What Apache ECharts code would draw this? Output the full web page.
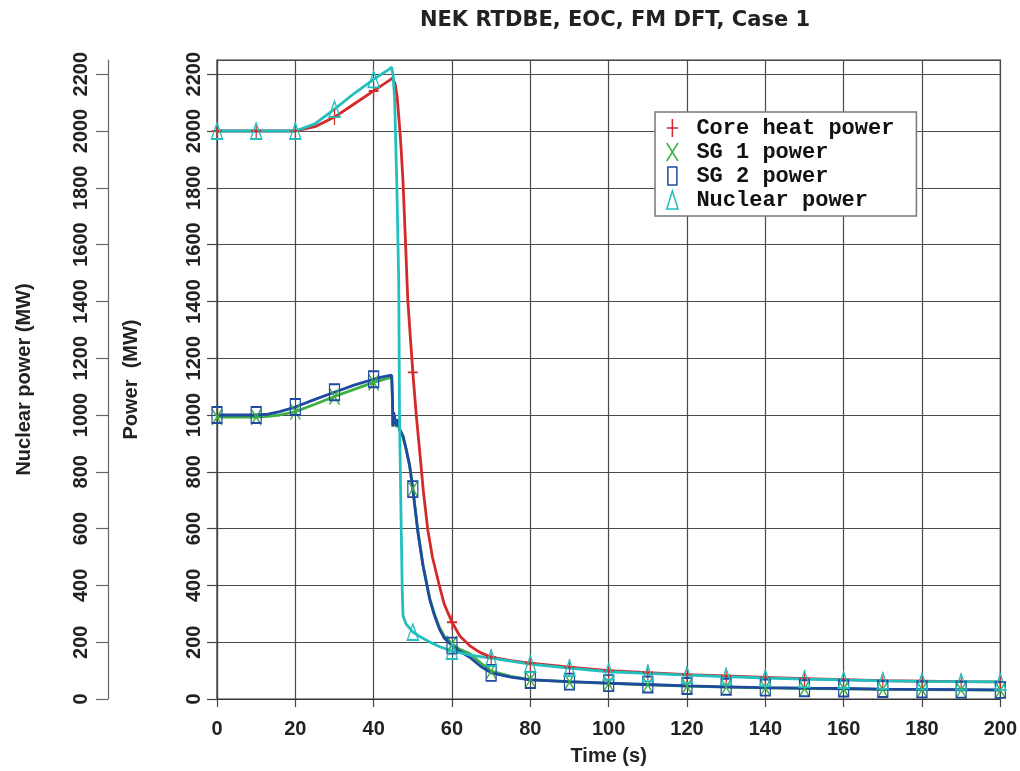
<!DOCTYPE html>
<html><head><meta charset="utf-8">
<script src="https://cdn.jsdelivr.net/npm/echarts@6/dist/echarts.min.js"></script>
<style>html,body{margin:0;padding:0;background:#fff}#c{width:1020px;height:771px}</style>
</head><body><div id="c"></div>
<script>
const chartTitle = 'NEK RTDBE, EOC, FM DFT, Case 1';
const xName = 'Time (s)';
const yName = 'Power  (MW)';
const y2Name = 'Nuclear power (MW)';
const seriesNames = ['Core heat power', 'SG 1 power', 'SG 2 power', 'Nuclear power'];

// Core heat power
const tCore = [0,10,20,25,30,35,40,42,44,44.8,45.5,46,46.6,47,47.5,48.2,48.7,49.4,50,50.9,51.7,52.7,53.8,55,56.8,58,60,62,64.5,67,70,75,80,90,100,110,120,130,140,150,160,170,180,190,200];
const pCore = [2000,2000,2000,2015,2049,2095,2141,2160,2178,2186,2165,2120,2018,1940,1820,1584,1408,1267,1150,996,880,730,598,500,398,335,270,222,188,165,147,135,126,112,100,93,86,81,76,72,68,65,63,61,60];

// SG 1 / SG 2 power
const tSG = [0,10,13,16,20,25,30,35,40,42,44.6,44.8,44.9,45.1,45.35,45.6,45.8,46.2,46.6,47,47.5,48.3,49.2,50,51.3,52.6,54.3,55.5,56.8,58,60,62,64.5,67.5,70,75,80,90,100,110,120,130,140,150,160,170,180,190,200];
const pSG1 = [993,993,995,1000,1012,1038,1065,1090,1115,1123,1133,1055,958,1005,998,970,958,980,948,938,922,878,820,740,590,472,355,300,252,222,194,175,160,125,98,80,68,60,55,50,45,42,39,37,36,34,33,32,31];
const pSG2 = [1000,1000,1003,1012,1028,1055,1080,1105,1126,1133,1140,1060,961,1010,1003,975,961,985,950,940,926,880,821,739,587,469,352,295,246,215,188,168,147,113,92,77,67,61,56,51,46,43,40,38,37,35,34,33,32];

// Nuclear power
const tNuc = [0,10,20,25,30,35,40,42,44,44.6,45,45.35,45.9,46.4,46.6,47.05,47.3,47.5,48.3,50,52,54.3,57,60,65,70,80,90,100,110,120,130,140,150,160,170,180,190,200];
const pNuc = [2000,2000,2000,2025,2077,2132,2182,2200,2218,2225,2190,2112,1820,1468,996,587,380,292,264,236,218,201,183,169,154,144,123,109,96,90,84,79,74,70,67,64,62,61,60];

const colors = ['#d42a2a', '#3cb043', '#1f4aa0', '#22bfbf'];
const icons = [
  'path://M5,0L5,16M0,8L10,8',
  'path://M0,0L10,16M10,0L0,16',
  'path://M0,0L8,0L8,16L0,16Z',
  'path://M5,0L10,16L0,16Z'
];

const zip = (t, v) => t.map((x, i) => [x, v[i]]);
const marks = (t, v) => zip(t, v).filter(p => p[0] % 10 === 0);
const curves = [zip(tCore, pCore), zip(tSG, pSG1), zip(tSG, pSG2), zip(tNuc, pNuc)];
const markPts = [marks(tCore, pCore), marks(tSG, pSG1), marks(tSG, pSG2), marks(tNuc, pNuc)];

const lab = {fontFamily: 'Liberation Sans', fontWeight: 'bold', fontSize: 20, color: '#222'};

const series = [];
seriesNames.forEach((n, i) => {
  series.push({
    name: n, type: 'line', data: curves[i], yAxisIndex: i === 3 ? 1 : 0,
    symbol: 'none', smooth: false, z: 2 + i,
    lineStyle: {color: colors[i], width: 2.8}, itemStyle: {color: colors[i]}
  });
});
seriesNames.forEach((n, i) => {
  series.push({
    name: n, type: 'scatter', data: markPts[i], yAxisIndex: i === 3 ? 1 : 0,
    symbol: icons[i], symbolSize: i === 3 ? [11, 16] : [10, 16], z: 10 + i,
    itemStyle: {color: 'rgba(0,0,0,0)', borderColor: colors[i], borderWidth: 1.5, opacity: 1}
  });
});

const yBase = {
  type: 'value', min: 0, max: 2250, interval: 200, position: 'left',
  nameLocation: 'middle', nameRotate: 90,
  nameTextStyle: Object.assign({}, lab),
  axisLine: {show: true, lineStyle: {color: '#444', width: 1.2}},
  axisTick: {show: true, length: 10, lineStyle: {color: '#444', width: 1.2}},
  axisLabel: Object.assign({rotate: 90, margin: 13, showMaxLabel: false,
    formatter: v => (v % 200 === 0 ? String(v) : '')}, lab)
};

const chart = echarts.init(document.getElementById('c'), null, {renderer: 'canvas'});
chart.setOption({
  animation: false,
  backgroundColor: '#fff',
  title: {
    text: chartTitle, left: 610, top: 5, textAlign: 'center',
    textStyle: {fontFamily: 'DejaVu Sans', fontWeight: 'bold', fontSize: 21, color: '#222'}
  },
  grid: {left: 217, right: 18, top: 60, bottom: 71, show: true, borderColor: '#333', borderWidth: 1.2, backgroundColor: 'transparent'},
  legend: {
    orient: 'vertical', left: 655, top: 112, selectedMode: false,
    itemWidth: 12, itemHeight: 18, itemGap: 2,
    padding: [5, 22, 5, 11],
    backgroundColor: '#fff', borderColor: '#777', borderWidth: 1.5,
    textStyle: {fontFamily: 'Liberation Mono', fontWeight: 'bold', fontSize: 22, color: '#111', padding: [0, 0, 0, 13]},
    data: seriesNames.map((n, i) => ({
      name: n, icon: icons[i],
      itemStyle: {color: 'rgba(0,0,0,0)', borderColor: colors[i], borderWidth: 1.5}
    }))
  },
  xAxis: {
    type: 'value', min: 0, max: 200, interval: 20,
    name: xName, nameLocation: 'middle', nameGap: 47,
    nameTextStyle: Object.assign({}, lab),
    axisLine: {show: true, onZero: false, lineStyle: {color: '#333', width: 1.2}},
    axisTick: {show: true, length: 8, lineStyle: {color: '#444', width: 1.2}},
    axisLabel: Object.assign({margin: 20}, lab),
    splitLine: {show: true, lineStyle: {color: '#4a4a4a', width: 1.2}}
  },
  yAxis: [
    Object.assign({}, yBase, {name: yName, nameGap: 76,
      splitLine: {show: true, lineStyle: {color: '#4a4a4a', width: 1.2}}}),
    Object.assign({}, yBase, {name: y2Name, nameGap: 74, offset: 109,
      axisTick: {show: true, length: 12, lineStyle: {color: '#666', width: 1.2}},
      axisLine: {show: true, lineStyle: {color: '#666', width: 1.2}},
      axisLabel: Object.assign({}, yBase.axisLabel, {margin: 17}),
      splitLine: {show: false}})
  ],
  series: series
});
</script>
</body></html>
